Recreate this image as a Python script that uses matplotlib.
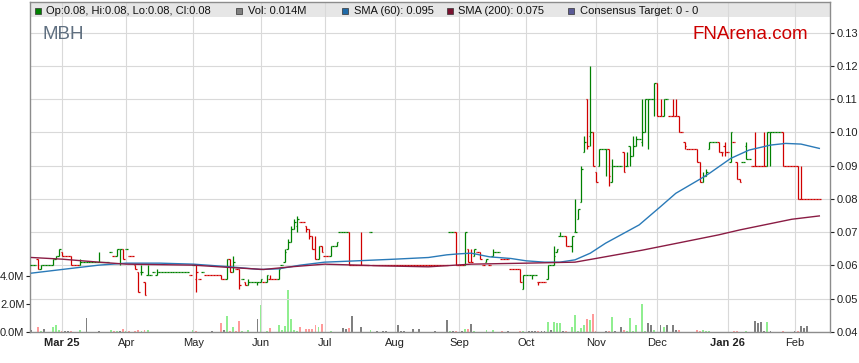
import numpy as np
import matplotlib
matplotlib.use("Agg")
import matplotlib.pyplot as plt
from matplotlib.collections import LineCollection
from matplotlib.patches import Rectangle

plt.rcParams['font.family'] = ['Liberation Sans', 'DejaVu Sans']

ticker = "MBH"
brand = "FNArena.com"
axis_origin = "2025-03-03"   # weekday axis origin (first month tick)

trade_dates = [
    "2025-02-17", "2025-02-19", "2025-02-20", "2025-02-21", "2025-02-26", "2025-02-27", "2025-02-28",
    "2025-03-03", "2025-03-04", "2025-03-05", "2025-03-06", "2025-03-11", "2025-03-13", "2025-03-19",
    "2025-03-25", "2025-03-26", "2025-03-27", "2025-03-28", "2025-03-31",
    "2025-04-01", "2025-04-02", "2025-04-04", "2025-04-07", "2025-04-08", "2025-04-09", "2025-04-10",
    "2025-04-14", "2025-04-15", "2025-04-30",
    "2025-05-01", "2025-05-02", "2025-05-05", "2025-05-06", "2025-05-07", "2025-05-09", "2025-05-14",
    "2025-05-15", "2025-05-16", "2025-05-19", "2025-05-20", "2025-05-21", "2025-05-22", "2025-05-23",
    "2025-05-26", "2025-05-27", "2025-05-30",
    "2025-06-02", "2025-06-03", "2025-06-04", "2025-06-05", "2025-06-06", "2025-06-10", "2025-06-11",
    "2025-06-12", "2025-06-13", "2025-06-16", "2025-06-17", "2025-06-18", "2025-06-19", "2025-06-23",
    "2025-06-24", "2025-06-25", "2025-06-26", "2025-06-27", "2025-06-30",
    "2025-07-01", "2025-07-03", "2025-07-07", "2025-07-08", "2025-07-09", "2025-07-10", "2025-07-11",
    "2025-07-14", "2025-07-17", "2025-07-22", "2025-07-23", "2025-07-24", "2025-07-28", "2025-07-29",
    "2025-08-04", "2025-08-05", "2025-08-06", "2025-08-11", "2025-08-13", "2025-08-20", "2025-08-26",
    "2025-08-27", "2025-08-28", "2025-08-29",
    "2025-09-02", "2025-09-03", "2025-09-04", "2025-09-05", "2025-09-08", "2025-09-09", "2025-09-10",
    "2025-09-11", "2025-09-12", "2025-09-15", "2025-09-16", "2025-09-19", "2025-09-23", "2025-09-24",
    "2025-09-29", "2025-09-30",
    "2025-10-02", "2025-10-03", "2025-10-06", "2025-10-07", "2025-10-08", "2025-10-09", "2025-10-10",
    "2025-10-13", "2025-10-14", "2025-10-15", "2025-10-16", "2025-10-17", "2025-10-20", "2025-10-22",
    "2025-10-23", "2025-10-24", "2025-10-27", "2025-10-28", "2025-10-29", "2025-10-30", "2025-10-31",
    "2025-11-03", "2025-11-04", "2025-11-06", "2025-11-07", "2025-11-10", "2025-11-11", "2025-11-13",
    "2025-11-14", "2025-11-17", "2025-11-18", "2025-11-19", "2025-11-20", "2025-11-24", "2025-11-25",
    "2025-11-26", "2025-11-27", "2025-11-28",
    "2025-12-01", "2025-12-02", "2025-12-03", "2025-12-04", "2025-12-05", "2025-12-08", "2025-12-09",
    "2025-12-10", "2025-12-11", "2025-12-12", "2025-12-15", "2025-12-18", "2025-12-19", "2025-12-22",
    "2025-12-23", "2025-12-24", "2025-12-29", "2025-12-30", "2025-12-31",
    "2026-01-02", "2026-01-05", "2026-01-06", "2026-01-07", "2026-01-08", "2026-01-09", "2026-01-13",
    "2026-01-14", "2026-01-15", "2026-01-16", "2026-01-19", "2026-01-20", "2026-01-21", "2026-01-27",
    "2026-02-02", "2026-02-03", "2026-02-04", "2026-02-05", "2026-02-06", "2026-02-12",
]

opens = [
    .060, .062, .059, .060, .060, .062, .063,
    .064, .063, .063, .063, .060, .061, .061, .064, .063, .063, .065, .065,
    .065, .063, .060, .058, .058, .055, .057, .058, .057, .057,
    .060, .056, .056, .058, .057, .057, .057, .056, .056, .062, .058, .059, .059, .056, .055, .054, .055,
    .055, .055, .055, .056, .056, .056, .060, .061, .065, .067, .071, .072, .073, .072, .071, .069, .065, .062, .066,
    .063, .063, .066, .070, .070, .070, .070, .060, .060, .070, .060, .060, .060, .060,
    .060, .060, .060, .060, .060, .060, .060, .070, .070, .070,
    .060, .060, .065, .061, .063, .064, .064, .060, .061, .060, .063, .062, .062, .059, .059, .053,
    .057, .057, .057, .055, .055, .055, .056, .060, .060, .064, .069, .069, .069, .066, .070, .074, .079, .094, .110, .099, .100,
    .088, .090, .095, .095, .085, .090, .090, .094, .090, .096, .093, .096, .097, .100, .110, .110, .110,
    .115, .105, .105, .110, .105, .105, .105, .105, .100, .097, .095, .095, .091, .085, .087, .095, .097, .094, .096,
    .091, .097, .091, .086, .091, .096, .090, .090, .090, .090, .090, .090, .100, .100,
    .090, .090, .080, .080, .080, .080,
]

highs = [
    .060, .062, .060, .060, .062, .063, .065,
    .064, .063, .063, .063, .062, .061, .064, .064, .063, .065, .065, .065,
    .065, .063, .060, .058, .060, .055, .060, .058, .059, .057,
    .060, .060, .056, .058, .057, .057, .057, .056, .062, .062, .063, .059, .059, .056, .055, .056, .055,
    .056, .055, .057, .057, .056, .059, .060, .065, .068, .072, .074, .075, .073, .072, .071, .069, .069, .066, .066,
    .063, .066, .067, .070, .070, .070, .070, .060, .070, .070, .060, .060, .060, .060,
    .060, .060, .060, .060, .060, .060, .060, .070, .070, .070,
    .060, .070, .065, .065, .065, .064, .064, .060, .062, .060, .065, .062, .062, .059, .059, .057,
    .057, .057, .057, .055, .055, .055, .060, .060, .066, .065, .070, .069, .069, .069, .080, .077, .090, .099, .110, .120, .100,
    .088, .095, .095, .095, .092, .090, .090, .094, .094, .096, .099, .099, .110, .110, .110, .110, .115,
    .115, .110, .110, .110, .105, .110, .110, .105, .100, .097, .095, .095, .091, .088, .089, .097, .097, .094, .097,
    .100, .097, .091, .086, .091, .097, .090, .100, .090, .090, .100, .100, .100, .100,
    .090, .090, .090, .080, .080, .080,
]

lows = [
    .060, .059, .059, .060, .060, .062, .063,
    .063, .063, .063, .060, .060, .061, .061, .064, .063, .063, .060, .062,
    .065, .063, .059, .052, .057, .051, .057, .058, .057, .057,
    .060, .052, .056, .058, .057, .057, .056, .056, .056, .058, .058, .059, .053, .056, .054, .054, .054,
    .055, .055, .055, .056, .056, .056, .060, .061, .065, .067, .071, .070, .073, .070, .068, .065, .062, .062, .064,
    .063, .063, .066, .070, .070, .070, .060, .060, .060, .070, .060, .060, .060, .060,
    .060, .060, .060, .060, .060, .060, .060, .070, .070, .060,
    .060, .060, .061, .061, .063, .064, .062, .060, .061, .060, .063, .062, .062, .059, .055, .053,
    .057, .056, .057, .054, .055, .055, .056, .060, .060, .064, .069, .069, .066, .064, .070, .074, .079, .094, .095, .096, .090,
    .085, .090, .087, .084, .085, .090, .090, .088, .090, .090, .093, .096, .096, .100, .095, .110, .105,
    .105, .105, .105, .110, .105, .105, .105, .100, .100, .095, .095, .091, .085, .085, .087, .095, .094, .093, .093,
    .091, .097, .086, .085, .091, .092, .090, .090, .090, .090, .090, .090, .090, .090,
    .090, .080, .080, .080, .080, .080,
]

closes = [
    .060, .059, .060, .060, .062, .063, .065,
    .063, .063, .063, .060, .061, .061, .061, .064, .063, .065, .065, .062,
    .065, .063, .059, .052, .058, .051, .057, .058, .058, .057,
    .060, .058, .056, .058, .057, .057, .056, .056, .062, .058, .061, .059, .054, .056, .054, .055, .055,
    .056, .055, .057, .056, .056, .059, .060, .064, .067, .071, .073, .074, .073, .071, .069, .065, .062, .066, .064,
    .063, .066, .067, .070, .070, .070, .060, .060, .060, .070, .060, .060, .060, .060,
    .060, .060, .060, .060, .060, .060, .060, .070, .070, .060,
    .060, .070, .061, .061, .065, .064, .062, .060, .062, .060, .064, .062, .062, .059, .055, .057,
    .057, .057, .057, .055, .055, .055, .060, .060, .063, .065, .069, .069, .066, .069, .070, .077, .089, .097, .096, .100, .090,
    .085, .095, .095, .087, .090, .090, .090, .088, .090, .093, .096, .098, .100, .110, .110, .110, .115,
    .105, .105, .110, .110, .105, .105, .105, .100, .100, .096, .095, .091, .085, .087, .088, .097, .094, .094, .094,
    .100, .097, .086, .085, .091, .092, .090, .090, .090, .090, .090, .100, .100, .090,
    .090, .080, .080, .080, .080, .080,
]

volumes_m = [
    .14, .33, .05, .20, .38, .50, .14,
    .10, .05, .05, .07, .15, .98, .05, .14, .10, .10, .10, .20,
    .05, .05, .05, .14, .10, .14, .14, .03, .02, .02,
    .14, .05, .03, .03, .02, .07, .67, .14, 1.14, .07, .38, .05, .80, .07, .03, .14, .93,
    1.93, .03, .05, .29, .02, .50, .14, .43, 3.0, .93, .14, .10, .36, .20, .20, .20, .50, .33, .57,
    .03, .05, .03, .03, .29, .20, .31, 1.14, .36, .14, .03, .10, .05, .05,
    .50, .10, .10, .20, .20, .05, .86, .05, .07, .10,
    .05, .19, .20, .57, .05, .03, .03, .03, .14, .03, .14, .10, .10, .03, .05, .05,
    .05, .07, .10, .05, .05, .05, .74, .14, .71, .62, .64, .05, .05, .36, 1.21, .07, .31, .50, .93, .88, 1.29,
    .05, .03, .05, .05, 1.07, .10, .36, .14, .10, 1.0, .05, .52, 2.02, .05, .64, .50, .14,
    .38, .52, .33, .50, .01, .50, .14, .14, .01, .03, .01, .14, .10, .14, .05, .05, .03, .03, .03,
    .03, .05, .05, .03, .03, .05, .03, .81, .67, .71, .05, .71, .10, .07,
    .05, .05, .43, .31, .43, .014,
]

sma60_dates = [
    "2025-02-17", "2025-03-03", "2025-03-19", "2025-04-01", "2025-04-16", "2025-05-01", "2025-05-19",
    "2025-06-02", "2025-06-10", "2025-06-19", "2025-07-01", "2025-07-11", "2025-08-01", "2025-08-18",
    "2025-08-26", "2025-09-01", "2025-09-05", "2025-09-15", "2025-09-24", "2025-10-01", "2025-10-09",
    "2025-10-16", "2025-10-23", "2025-10-30", "2025-11-06", "2025-11-13", "2025-11-21", "2025-12-02",
    "2025-12-09", "2025-12-19", "2025-12-24", "2026-01-02", "2026-01-12", "2026-01-21", "2026-01-28",
    "2026-02-04", "2026-02-12",
]
sma60_vals = [
    .0577, .0588, .0601, .0607, .0607, .0604, .0596, .0588, .0590, .0601, .0610, .0613, .0619, .0624,
    .0632, .0635, .0637, .0626, .0621, .0614, .0610, .0610, .0617, .0637, .0667, .0692, .0722, .0777,
    .0817, .0860, .0877, .0922, .0947, .0962, .0967, .0965, .0952,
]

sma200_dates = [
    "2025-02-17", "2025-03-03", "2025-03-19", "2025-04-01", "2025-05-01", "2025-05-19", "2025-06-03",
    "2025-06-16", "2025-07-01", "2025-07-25", "2025-08-18", "2025-09-05", "2025-10-01", "2025-10-23",
    "2025-11-04", "2025-11-24", "2025-12-10", "2025-12-29", "2026-01-07", "2026-01-30", "2026-02-12",
]
sma200_vals = [
    .0624, .0619, .0610, .0604, .0601, .0594, .0588, .0596, .0604, .0599, .0596, .0604, .0607, .0610,
    .0623, .0646, .0668, .0692, .0707, .0739, .0749,
]

month_ticks = ["2025-03-03", "2025-04-01", "2025-05-01", "2025-06-02", "2025-07-01", "2025-08-01",
               "2025-09-01", "2025-10-01", "2025-11-03", "2025-12-01", "2026-01-01", "2026-02-02"]
month_labels = ["Mar 25", "Apr", "May", "Jun", "Jul", "Aug", "Sep", "Oct", "Nov", "Dec", "Jan 26", "Feb"]
price_ticks = [0.04, 0.05, 0.06, 0.07, 0.08, 0.09, 0.10, 0.11, 0.12, 0.13]
vol_ticks_m = [0, 2, 4]

n = len(trade_dates)
for arr in (opens, highs, lows, closes, volumes_m):
    if len(arr) != n:
        raise SystemExit("length mismatch %d vs %d" % (len(arr), n))

# ---- build the daily (weekday) series; non-trading days carry the last close
def wx(d):
    return int(np.busday_count(axis_origin, d))

rec = {d: i for i, d in enumerate(trade_dates)}
days = np.arange(np.datetime64(trade_dates[0]), np.datetime64(trade_dates[-1]) + 1)
days = days[np.is_busday(days)]
X, O, Hh, L, C, V = [], [], [], [], [], []
last = closes[0]
for d in days:
    s = str(d)
    if s in rec:
        i = rec[s]
        o, h, l, c, v = opens[i], highs[i], lows[i], closes[i], volumes_m[i]
    else:
        o = h = l = c = last
        v = 0.0
    X.append(wx(s)); O.append(o); Hh.append(h); L.append(l); C.append(c); V.append(v)
    last = c
X = np.array(X, float)

UP, DOWN = '#008000', '#d00000'
VUP, VDOWN, VFLAT = '#90ee90', '#ff9a9a', '#808080'
bar_cols, vol_cols = [], []
prev_c = C[0]
prev_col = UP
for i in range(len(X)):
    if C[i] > prev_c:
        col, vc = UP, VUP
    elif C[i] < prev_c:
        col, vc = DOWN, VDOWN
    else:
        col, vc = prev_col, VFLAT
    bar_cols.append(col); vol_cols.append(vc)
    prev_col = col
    prev_c = C[i]

# ---- figure
W, Hpx = 859, 363
fig = plt.figure(figsize=(W / 100, Hpx / 100), dpi=100)
fig.patch.set_facecolor('white')
rect = [30 / W, (Hpx - 332) / Hpx, 800 / W, 330 / Hpx]
ax_vol = fig.add_axes(rect)
ax = fig.add_axes(rect, sharex=ax_vol)
ax.patch.set_alpha(0)

xmin, xmax = -10.5, 251.5
ax.set_xlim(xmin, xmax)

# volume
ax_vol.bar(X, V, width=0.62, color=vol_cols, linewidth=0, zorder=2)
ax_vol.set_ylim(0, 330 / 14)
ax_vol.set_yticks(vol_ticks_m)
ax_vol.set_yticklabels(["%.1fM" % t for t in vol_ticks_m])
ax_vol.tick_params(axis='y', direction='out', length=3, width=0.8, pad=1, labelsize=8,
                   colors='#222222', left=True, labelleft=True)
ax_vol.tick_params(axis='x', bottom=False, labelbottom=False)
for sp in ax_vol.spines.values():
    sp.set_visible(False)

# price OHLC bars
segs = []
cols = []
for i in range(len(X)):
    x = X[i]
    segs.append([(x, L[i]), (x, Hh[i])])
    segs.append([(x - 0.5, O[i]), (x, O[i])])
    segs.append([(x, C[i]), (x + 0.5, C[i])])
    cols += [bar_cols[i]] * 3
lc = LineCollection(segs, colors=cols, linewidths=0.9, capstyle='butt', zorder=3)
ax.add_collection(lc)

# moving averages
ax.plot([wx(d) for d in sma60_dates], sma60_vals, color='#2a7ab8', lw=1.0, zorder=4)
ax.plot([wx(d) for d in sma200_dates], sma200_vals, color='#8a1c44', lw=1.0, zorder=4)

ax.set_ylim(0.04, 0.04 + 330 / 3326)
ax.set_yticks(price_ticks)
ax.set_yticklabels(["%.2f" % t for t in price_ticks])
ax.yaxis.tick_right()
ax.tick_params(axis='y', direction='out', length=3, width=0.8, pad=2, labelsize=8, colors='#222222')

ax.set_xticks([wx(d) for d in month_ticks])
ax.set_xticklabels(month_labels)
ax.tick_params(axis='x', length=0, pad=4, labelsize=8, colors='#222222')
for lab in ax.get_xticklabels():
    if lab.get_text() in ("Mar 25", "Jan 26"):
        lab.set_fontweight('bold')

ax.set_axisbelow(True)
ax.grid(True, color='#d9d9d9', lw=0.8)

for sp in ax.spines.values():
    sp.set_color('#8c8c8c')
    sp.set_linewidth(1.0)

# legend band
band_h = 15 / 330
ax.add_patch(Rectangle((0, 1 - band_h), 1, band_h, transform=ax.transAxes,
                       facecolor='#e6e6e6', edgecolor='none', zorder=0.3))

def fx(px):
    return px / W

def fy(py):
    return 1 - py / Hpx

items = [
    ('#008000', "Op:%.2f, Hi:%.2f, Lo:%.2f, Cl:%.2f" % (opens[-1], highs[-1], lows[-1], closes[-1]), 35),
    ('#808080', "Vol: %.3fM" % volumes_m[-1], 236),
    ('#1f6aa8', "SMA (60): %.3f" % sma60_vals[-1], 342),
    ('#7a1230', "SMA (200): %.3f" % sma200_vals[-1], 447),
    ('#5a5a96', "Consensus Target: 0 - 0", 568),
]
for col, txt, px in items:
    fig.add_artist(Rectangle((fx(px), fy(13.5)), 6 / W, 6 / Hpx, transform=fig.transFigure,
                             facecolor=col, edgecolor='#333333', lw=0.5))
    fig.text(fx(px + 11.5), fy(13.8), txt, fontsize=8, color='#111111', ha='left', va='baseline')

fig.text(fx(42), fy(39), ticker, fontsize=13.5, color='#5f6f80', ha='left', va='baseline')
fig.text(fx(692), fy(39), brand, fontsize=13.5, color='#cc0000', ha='left', va='baseline')

fig.savefig("out.png", dpi=100, facecolor='white')
